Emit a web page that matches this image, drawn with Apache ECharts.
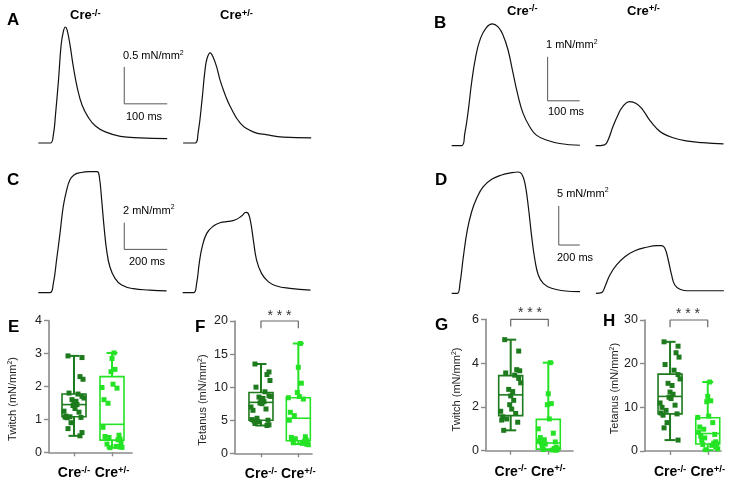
<!DOCTYPE html>
<html><head><meta charset="utf-8">
<script src="https://cdn.jsdelivr.net/npm/echarts@6/dist/echarts.min.js"></script>
<style>html,body{margin:0;padding:0;background:#fff}#c{width:737px;height:482px}</style>
</head><body><div id="c"></div>
<script>
// ---------- force traces: time (ms from trace start) and force (mN/mm²) ----------
const aNegT = [0,28,35,40,47,53,58,63,67,74,81,91,102,116,133,156,191,237,300];
const aNegF = [0,0,0.11,0.38,0.85,1.32,1.50,1.57,1.53,1.32,1.05,0.74,0.51,0.35,0.23,0.15,0.09,0.07,0.06];
const aPosT = [0,28,35,44,51,56,63,70,79,86,98,110,133,163,196,233,298];
const aPosF = [0,0,0.14,0.58,0.99,1.15,1.22,1.16,1.01,0.85,0.65,0.49,0.27,0.15,0.11,0.08,0.07];

const bNegT = [0,31,41,52,62,75,90,109,127,145,160,176,191,207,223,244,265,296,338,401];
const bNegF = [0,0,0.28,0.81,1.42,2.02,2.44,2.69,2.77,2.70,2.52,2.18,1.68,1.15,0.74,0.43,0.24,0.13,0.05,0.01];
const bPosT = [0,28,39,54,70,85,106,127,148,169,190,210,242,283,335,400];
const bPosF = [0,0.02,0.13,0.43,0.70,0.89,1.00,0.96,0.81,0.58,0.40,0.28,0.18,0.11,0.07,0.04];

const cNegT = [0,54,70,85,101,116,132,147,166,194,240,274,284,295,306,318,333,357,388,442,519,597];
const cNegF = [0,0,0.70,2.45,4.45,6.45,7.70,8.45,8.83,9.0,9.08,9.08,8.70,6.95,4.95,3.20,1.95,1.08,0.58,0.30,0.20,0.13];
const cPosT = [0,50,65,77,91,112,143,174,212,243,274,294,305,316,329,344,367,398,437,499,595];
const cPosF = [0,0,0.70,2.20,3.45,4.45,5.0,5.25,5.35,5.45,5.75,6.03,5.95,5.33,3.95,2.45,1.45,0.83,0.50,0.33,0.20];

const dNegT = [0,54,79,111,149,190,238,301,381,476,571,634,667,698,730,762,793,825,872,952,1063,1222];
const dNegF = [0,0,1.28,4.69,8.12,10.46,12.18,13.67,14.62,15.17,15.46,15.55,15.29,14.10,11.10,7.26,4.27,2.35,1.28,0.64,0.33,0.21];
const dPosT = [0,54,86,133,197,276,371,483,578,625,657,689,721,752,800,863,1219];
const dPosF = [0,0.09,0.85,2.35,3.63,4.69,5.46,5.90,6.10,6.10,5.77,4.27,2.35,1.06,0.51,0.33,0.33];

// scale bars
const scaleMs = [100, 100, 200, 200];
const scaleForce = [0.5, 1, 2, 5];

// ---------- box plots ----------
const categories = ['Cre-/-', 'Cre+/-'];
// [min, Q1, median, Q3, max]
const eBoxNeg = [0.50, 1.08, 1.45, 1.77, 2.93];
const eBoxPos = [0.14, 0.37, 0.85, 2.30, 3.02];
const fBoxNeg = [4.2, 5.0, 7.7, 9.2, 13.5];
const fBoxPos = [1.4, 1.9, 5.3, 8.4, 16.6];
const gBoxNeg = [0.93, 1.60, 2.55, 3.43, 5.07];
const gBoxPos = [0.03, 0.07, 0.35, 1.43, 4.02];
const hBoxNeg = [2.5, 8.5, 12.5, 17.6, 25.0];
const hBoxPos = [0.2, 1.6, 4.0, 7.6, 15.8];

const ePtsNeg = [2.93,2.88,2.30,2.22,1.80,1.77,1.70,1.65,1.60,1.55,1.48,1.45,1.42,1.33,1.25,1.22,1.10,1.08,1.07,1.06,1.05,0.90,0.72,0.60,0.50];
const ePtsPos = [3.02,2.85,2.52,2.45,2.07,1.97,1.95,1.60,1.49,0.76,0.52,0.48,0.45,0.42,0.40,0.38,0.28,0.25,0.18,0.16,0.15,0.14];
const fPtsNeg = [13.5,12.3,11.9,11.0,10.0,9.3,8.7,8.6,8.5,8.3,8.2,7.8,7.6,7.5,7.0,6.7,6.5,5.3,5.1,5.0,4.9,4.8,4.5,4.3,4.2];
const fPtsPos = [16.6,13.0,10.6,9.2,8.6,8.4,8.2,6.2,5.7,5.0,2.5,2.4,2.2,2.1,2.0,1.8,1.7,1.6,1.5,1.4,1.3];
const gPtsNeg = [5.07,4.55,3.7,3.65,3.55,3.45,3.3,3.1,2.8,2.7,2.5,2.3,2.1,1.9,1.8,1.7,1.55,1.45,1.4,1.3,0.93];
const gPtsPos = [4.02,2.6,2.15,2.1,1.45,1.0,0.8,0.6,0.5,0.45,0.4,0.35,0.3,0.2,0.15,0.1,0.08,0.05,0.03,0.02];
const hPtsNeg = [25.0,24.0,22.5,21.5,19.8,18.5,17.5,16.5,15.5,15.0,13.5,13.0,12.3,12.0,11.0,10.5,10.0,9.3,8.7,8.5,8.2,6.5,5.3,2.5];
const hPtsPos = [15.8,12.5,11.5,11.3,8.0,7.7,6.5,5.5,5.0,4.3,3.8,3.4,3.0,2.5,2.1,1.8,1.6,1.5,1.3,0.9,0.5,0.3];

// ---------- layout ----------
const FF = '"Liberation Sans", Arial, Helvetica, sans-serif';
const groupColors = ['#1d7a1d', '#24e324'];
const AXIS_COLOR = '#8a8a8a';

const traceData = [
  [aNegT, aNegF, aPosT, aPosF],
  [bNegT, bNegF, bPosT, bPosF],
  [cNegT, cNegF, cPosT, cPosF],
  [dNegT, dNegF, dPosT, dPosF]
];
const traceLayout = [
  {key:'A', left:38.3, top:10, width:275, height:133, xMax:640, yMax:1.8, off:337, barAt:[200,0.53], fLabel:[123,56], msLabel:[126,116.5], letter:[7,20], heads:[[70,15.5],[220,15.5]]},
  {key:'B', left:451.7, top:13.7, width:275, height:132, xMax:860, yMax:3, off:450, barAt:[300,1.02], fLabel:[546,45], msLabel:[548,112], letter:[434,23], heads:[[507,11],[627,11]]},
  {key:'C', left:38.3, top:159.4, width:275, height:133.3, xMax:1280, yMax:10, off:672, barAt:[400,3.25], fLabel:[123,210.5], msLabel:[129,262], letter:[7,180], heads:[]},
  {key:'D', left:451.7, top:152.9, width:275, height:140.4, xMax:2620, yMax:18, off:1374, barAt:[1020,6.19], fLabel:[557,193.5], msLabel:[557,258], letter:[435,180], heads:[]}
];

const boxData = [
  [eBoxNeg, eBoxPos, ePtsNeg, ePtsPos],
  [fBoxNeg, fBoxPos, fPtsNeg, fPtsPos],
  [gBoxNeg, gBoxPos, gPtsNeg, gPtsPos],
  [hBoxNeg, hBoxPos, hPtsNeg, hPtsPos]
];
const boxLayout = [
  {key:'E', frame:{left:49,top:320.7,width:83,height:131.6}, data:{left:55,width:76}, yMax:4, step:1, name:'Twitch', nameAt:[13,399], letter:[8,327.5], sig:false},
  {key:'F', frame:{left:235,top:321,width:77,height:132.3}, data:{left:242.3,width:74.7}, yMax:20, step:5, name:'Tetanus', nameAt:[203,400], letter:[195,327.5], sig:true, starAt:[279.5,313.5]},
  {key:'G', frame:{left:486,top:319.3,width:87,height:131.4}, data:{left:491.9,width:75.2}, yMax:6, step:2, name:'Twitch', nameAt:[457,389.5], letter:[435,325.5], sig:true, starAt:[530,310.5]},
  {key:'H', frame:{left:645,top:320,width:76,height:131}, data:{left:651.2,width:75.4}, yMax:30, step:10, name:'Tetanus', nameAt:[615,388.5], letter:[603,321], sig:true, starAt:[688,311.5]}
];
const jitter = [-6,5,-2,8,-8,2,6,-4,0,9,-9,3,-5,7,-1,4,-7,1,8,-3,-10,10];

const grids = [], xAxes = [], yAxes = [], series = [], graphics = [];

function supText(main, sup, size, supSize, bold) {
  return {
    text: '{m|' + main + '}{s|' + sup + '}',
    rich: {
      m: {fontSize: size, fontWeight: bold ? 'bold' : 'normal', fontFamily: FF, fill: '#000', lineHeight: size + 2},
      s: {fontSize: supSize, fontWeight: bold ? 'bold' : 'normal', fontFamily: FF, fill: '#000', verticalAlign: 'top', lineHeight: supSize + 1}
    }
  };
}
function addText(x, y, content, opts) {
  graphics.push(Object.assign({type:'text', x:x, y:y, z:100,
    style: Object.assign({align:'left', verticalAlign:'middle', fill:'#000'}, content)}, opts || {}));
}
function letter(ch, pos) {
  addText(pos[0], pos[1], {text: ch, font: 'bold 17px ' + FF});
}

// trace panels
traceLayout.forEach((L, k) => {
  const gi = grids.length;
  grids.push({left:L.left, top:L.top, width:L.width, height:L.height});
  xAxes.push({type:'value', gridIndex:gi, min:0, max:L.xMax, show:false});
  yAxes.push({type:'value', gridIndex:gi, min:0, max:L.yMax, show:false});
  const [nT, nF, pT, pF] = traceData[k];
  const common = {type:'line', xAxisIndex:gi, yAxisIndex:gi, symbol:'none', smooth:0.45,
    clip:false, lineStyle:{color:'#111', width:1.2}, silent:true};
  series.push(Object.assign({data: nT.map((t, i) => [t, nF[i]])}, common));
  series.push(Object.assign({data: pT.map((t, i) => [t + L.off, pF[i]])}, common));
  const [bt, bf] = L.barAt;
  series.push({type:'line', xAxisIndex:gi, yAxisIndex:gi, symbol:'none', clip:false, silent:true,
    lineStyle:{color:'#555', width:1},
    data: [[bt, bf + scaleForce[k]], [bt, bf], [bt + scaleMs[k], bf]]});
  letter(L.key, L.letter);
  L.heads.forEach((h, j) => addText(h[0], h[1], supText('Cre', j === 0 ? '-/-' : '+/-', 13, 9.5, true)));
  addText(L.fLabel[0], L.fLabel[1], supText(scaleForce[k] + ' mN/mm', '2', 11, 7, false));
  addText(L.msLabel[0], L.msLabel[1], {text: scaleMs[k] + ' ms', font: '11px ' + FF});
});

function renderBox(params, api) {
  const i = api.value(0);
  const col = groupColors[i];
  const pMin = api.coord([i, api.value(1)]);
  const pQ1 = api.coord([i, api.value(2)]);
  const pMed = api.coord([i, api.value(3)]);
  const pQ3 = api.coord([i, api.value(4)]);
  const pMax = api.coord([i, api.value(5)]);
  const cx = pMin[0], hw = 12, cw = 5.5;
  const ls = {stroke: col, lineWidth: 2};
  return {type:'group', children:[
    {type:'line', shape:{x1:cx, y1:pMax[1], x2:cx, y2:pQ3[1]}, style:ls},
    {type:'line', shape:{x1:cx, y1:pQ1[1], x2:cx, y2:pMin[1]}, style:ls},
    {type:'line', shape:{x1:cx-cw, y1:pMax[1], x2:cx+cw, y2:pMax[1]}, style:ls},
    {type:'line', shape:{x1:cx-cw, y1:pMin[1], x2:cx+cw, y2:pMin[1]}, style:ls},
    {type:'rect', shape:{x:cx-hw, y:pQ3[1], width:2*hw, height:pQ1[1]-pQ3[1]}, style:{stroke:col, lineWidth:1.6, fill:'none'}},
    {type:'line', shape:{x1:cx-hw, y1:pMed[1], x2:cx+hw, y2:pMed[1]}, style:{stroke:col, lineWidth:1.6}}
  ]};
}

// box panels
boxLayout.forEach((L, k) => {
  const fi = grids.length;
  grids.push({left:L.frame.left, top:L.frame.top, width:L.frame.width, height:L.frame.height});
  xAxes.push({type:'value', gridIndex:fi, min:0, max:1,
    axisLine:{show:true, onZero:false, lineStyle:{color:AXIS_COLOR, width:1.6}},
    axisTick:{show:false}, axisLabel:{show:false}, splitLine:{show:false}});
  yAxes.push({type:'value', gridIndex:fi, min:0, max:L.yMax, interval:L.step,
    axisLine:{show:true, lineStyle:{color:AXIS_COLOR, width:1.6}},
    axisTick:{show:true, length:5, lineStyle:{color:AXIS_COLOR, width:1.4}},
    axisLabel:{fontSize:12.5, color:'#222', margin:7, fontFamily:FF}, splitLine:{show:false}});
  const di = grids.length;
  grids.push({left:L.data.left, top:L.frame.top, width:L.data.width, height:L.frame.height});
  xAxes.push({type:'category', gridIndex:di, data:categories,
    axisLine:{show:false}, axisTick:{show:true, alignWithLabel:true, length:4, lineStyle:{color:AXIS_COLOR, width:1.4}},
    axisLabel:{interval:0, hideOverlap:false, margin:13, formatter: v => '{m|Cre}{s|' + v.slice(3) + '}',
      rich:{m:{fontSize:14, fontWeight:'bold', fontFamily:FF, color:'#000', lineHeight:16},
            s:{fontSize:9.5, fontWeight:'bold', fontFamily:FF, color:'#000', verticalAlign:'top', lineHeight:10}}},
    splitLine:{show:false}});
  yAxes.push({type:'value', gridIndex:di, min:0, max:L.yMax, show:false});
  const [bn, bp, pn, pp] = boxData[k];
  series.push({type:'custom', xAxisIndex:di, yAxisIndex:di, renderItem:renderBox, clip:false, z:2, silent:true,
    encode:{x:0, y:[1,2,3,4,5]}, data:[[0].concat(bn), [1].concat(bp)]});
  [pn, pp].forEach((pts, gi) => {
    series.push({type:'scatter', xAxisIndex:di, yAxisIndex:di, symbol:'rect', symbolSize:5, clip:false, z:3, silent:true,
      itemStyle:{color:groupColors[gi], opacity:1},
      data: pts.map((v, i) => ({value:[gi, v], symbolOffset:[jitter[(i * 3 + gi * 5) % jitter.length], 0]}))});
  });
  if (L.sig) {
    const top = L.yMax, d = L.yMax * 0.055;
    series.push({type:'line', xAxisIndex:di, yAxisIndex:di, symbol:'none', clip:false, silent:true,
      lineStyle:{color:'#666', width:1.2}, data:[[0, top - d], [0, top], [1, top], [1, top - d]]});
    addText(L.starAt[0], L.starAt[1] + 3, {text:'* * *', font:'14px ' + FF, align:'center', fill:'#333'});
  }
  letter(L.key, L.letter);
  graphics.push({type:'text', x:L.nameAt[0], y:L.nameAt[1], rotation:Math.PI/2, z:100,
    style: Object.assign({align:'center', verticalAlign:'middle'},
      {text:'{m|' + L.name + ' (mN/mm}{s|2}{m|)}',
       rich:{m:{fontSize:11, fontFamily:FF, fill:'#222', lineHeight:13},
             s:{fontSize:7, fontFamily:FF, fill:'#222', verticalAlign:'top', lineHeight:8}}})});
});

const chart = echarts.init(document.getElementById('c'), null, {renderer:'canvas'});
chart.setOption({
  animation:false,
  backgroundColor:'#fff',
  textStyle:{fontFamily:FF},
  grid:grids, xAxis:xAxes, yAxis:yAxes, series:series, graphic:graphics
});
</script></body></html>
